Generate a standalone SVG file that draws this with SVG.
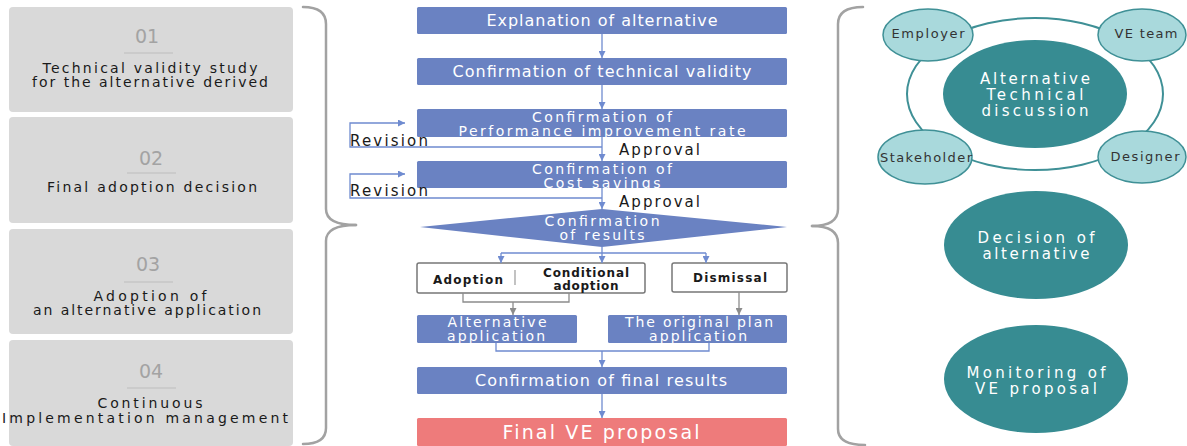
<svg xmlns="http://www.w3.org/2000/svg" width="1187" height="446" viewBox="0 0 1187 446">
  <defs>
    <style>
      .panel { fill: #d9d9d9; }
      .num { font-family: "DejaVu Sans", "Liberation Sans", sans-serif; font-size: 19px; fill: #a3a3a3; text-anchor: middle; }
      .rule { stroke: #bdbdbd; stroke-width: 1; }
      .ptxt { font-family: "DejaVu Sans", "Liberation Sans", sans-serif; font-size: 14px; fill: #1a1a1a; text-anchor: middle; }
      .brace { fill: none; stroke: #a2a2a2; stroke-width: 2.5; stroke-linecap: round; }
      .step { fill: #6a82c2; }
      .stxt { font-family: "DejaVu Sans", "Liberation Sans", sans-serif; font-size: 16px; fill: #ffffff; text-anchor: middle; }
      .stxt2 { font-family: "DejaVu Sans", "Liberation Sans", sans-serif; font-size: 14px; fill: #ffffff; text-anchor: middle; }
      .opt { fill: #ffffff; stroke: #777777; stroke-width: 1.5; }
      .otxt { font-family: "DejaVu Sans", "Liberation Sans", sans-serif; font-size: 12px; font-weight: bold; fill: #1a1a1a; text-anchor: middle; }
      .lbl { font-family: "DejaVu Sans", "Liberation Sans", sans-serif; font-size: 15px; fill: #1a1a1a; }
      .flow { fill: none; stroke: #6f8bd0; stroke-width: 1.3; }
      .flowg { fill: none; stroke: #8c8c8c; stroke-width: 1.3; }
      .final { fill: #ee7b7b; }
      .ftxt { font-family: "DejaVu Sans", "Liberation Sans", sans-serif; font-size: 19px; fill: #ffffff; text-anchor: middle; }
      .big { fill: #378c92; }
      .btxt { font-family: "DejaVu Sans", "Liberation Sans", sans-serif; font-size: 15px; fill: #ffffff; text-anchor: middle; }
      .ring { fill: none; stroke: #3f9096; stroke-width: 2; }
      .small { fill: #a9d9dc; stroke: #3f9096; stroke-width: 1.5; }
      .sm { font-family: "DejaVu Sans", "Liberation Sans", sans-serif; font-size: 13px; fill: #333333; text-anchor: middle; }
    </style>
    <marker id="ab" viewBox="0 0 8 8" refX="8" refY="4" markerWidth="7" markerHeight="7" markerUnits="userSpaceOnUse" orient="auto">
      <path d="M0,0 L8,4 L0,8 z" fill="#6f8bd0"/>
    </marker>
    <marker id="ag" viewBox="0 0 8 8" refX="8" refY="4" markerWidth="7" markerHeight="7" markerUnits="userSpaceOnUse" orient="auto">
      <path d="M0,0 L8,4 L0,8 z" fill="#8c8c8c"/>
    </marker>
  </defs>

  <!-- Stage panels -->
  <g id="stage-01">
    <rect class="panel" x="9" y="7" width="284" height="105" rx="4"/>
    <text class="num" x="147" y="43">01</text>
    <line class="rule" x1="124" y1="53" x2="173" y2="53"/>
    <text class="ptxt" x="150" y="73" textLength="215" lengthAdjust="spacing">Technical validity study</text>
    <text class="ptxt" x="150" y="87" textLength="236" lengthAdjust="spacing">for the alternative derived</text>
  </g>
  <g id="stage-02">
    <rect class="panel" x="9" y="117" width="284" height="106" rx="4"/>
    <text class="num" x="151" y="165">02</text>
    <line class="rule" x1="127" y1="173" x2="176" y2="173"/>
    <text class="ptxt" x="152" y="192" textLength="210" lengthAdjust="spacing">Final adoption decision</text>
  </g>
  <g id="stage-03">
    <rect class="panel" x="9" y="229" width="284" height="105" rx="4"/>
    <text class="num" x="148" y="271">03</text>
    <line class="rule" x1="124" y1="282" x2="173" y2="282"/>
    <text class="ptxt" x="150" y="301" textLength="113" lengthAdjust="spacing">Adoption of</text>
    <text class="ptxt" x="147" y="315" textLength="228" lengthAdjust="spacing">an alternative application</text>
  </g>
  <g id="stage-04">
    <rect class="panel" x="9" y="340" width="284" height="106" rx="4"/>
    <text class="num" x="151" y="378">04</text>
    <line class="rule" x1="127" y1="388" x2="176" y2="388"/>
    <text class="ptxt" x="150" y="408" textLength="105" lengthAdjust="spacing">Continuous</text>
    <text class="ptxt" x="145" y="423" textLength="286" lengthAdjust="spacing">Implementation management</text>
  </g>

  <!-- Braces grouping the stages -->
  <g id="braces">
    <path class="brace" d="M303 7 Q326 7 326 24 L326 209 Q326 225 356 225"/>
    <path class="brace" d="M356 225 Q326 225 326 241 L326 428 Q326 444 303 444"/>
    <path class="brace" d="M863 7 Q838 7 838 24 L838 209 Q838 226 812 226"/>
    <path class="brace" d="M812 226 Q838 226 838 243 L838 429 Q838 445 865 445"/>
  </g>

  <!-- Process steps -->
  <g id="explanation">
    <rect class="step" x="417" y="7" width="370" height="27" rx="1.5"/>
    <text class="stxt" x="602" y="26" textLength="231" lengthAdjust="spacing">Explanation of alternative</text>
  </g>
  <g id="technical-validity">
    <rect class="step" x="417" y="58" width="370" height="27" rx="1.5"/>
    <text class="stxt" x="602" y="77" textLength="299" lengthAdjust="spacing">Confirmation of technical validity</text>
  </g>
  <g id="performance">
    <rect class="step" x="417" y="109" width="370" height="28" rx="1.5"/>
    <text class="stxt2" x="602" y="122" textLength="140" lengthAdjust="spacing">Confirmation of</text>
    <text class="stxt2" x="602" y="136" textLength="287" lengthAdjust="spacing">Performance improvement rate</text>
  </g>
  <g id="cost-savings">
    <rect class="step" x="417" y="161" width="370" height="27" rx="1.5"/>
    <text class="stxt2" x="602" y="173.5" textLength="140" lengthAdjust="spacing">Confirmation of</text>
    <text class="stxt2" x="602" y="187.5" textLength="117" lengthAdjust="spacing">Cost savings</text>
  </g>
  <g id="results">
    <polygon class="step" points="602,209 787,227 602,247 420,227"/>
    <text class="stxt2" x="602" y="226" textLength="115" lengthAdjust="spacing">Confirmation</text>
    <text class="stxt2" x="602" y="240" textLength="85" lengthAdjust="spacing">of results</text>
  </g>
  <g id="adoption">
    <rect class="opt" x="417" y="263" width="228" height="30" rx="2"/>
    <line x1="515" y1="270" x2="515" y2="285" stroke="#9a9a9a" stroke-width="1.2"/>
    <text class="otxt" x="468" y="284" textLength="70" lengthAdjust="spacing">Adoption</text>
    <text class="otxt" x="586" y="277" textLength="86" lengthAdjust="spacing">Conditional</text>
    <text class="otxt" x="586" y="289.5" textLength="65" lengthAdjust="spacing">adoption</text>
  </g>
  <g id="dismissal">
    <rect class="opt" x="672" y="263" width="115" height="29" rx="2"/>
    <text class="otxt" x="730" y="282" textLength="74" lengthAdjust="spacing">Dismissal</text>
  </g>
  <g id="alt-application">
    <rect class="step" x="417" y="315" width="160" height="28" rx="1.5"/>
    <text class="stxt2" x="497" y="327" textLength="99" lengthAdjust="spacing">Alternative</text>
    <text class="stxt2" x="496" y="341" textLength="98" lengthAdjust="spacing">application</text>
  </g>
  <g id="original-plan">
    <rect class="step" x="608" y="315" width="179" height="28" rx="1.5"/>
    <text class="stxt2" x="699" y="327" textLength="148" lengthAdjust="spacing">The original plan</text>
    <text class="stxt2" x="698" y="341" textLength="98" lengthAdjust="spacing">application</text>
  </g>
  <g id="final-results">
    <rect class="step" x="417" y="367" width="370" height="27" rx="1.5"/>
    <text class="stxt" x="601" y="386" textLength="252" lengthAdjust="spacing">Confirmation of final results</text>
  </g>
  <g id="final-proposal">
    <rect class="final" x="417" y="418" width="370" height="28" rx="1.5"/>
    <text class="ftxt" x="601" y="439" textLength="197" lengthAdjust="spacing">Final VE proposal</text>
  </g>

  <!-- Connectors -->
  <g id="connectors">
    <line class="flow" x1="602" y1="34" x2="602" y2="58" marker-end="url(#ab)"/>
    <line class="flow" x1="602" y1="85" x2="602" y2="109" marker-end="url(#ab)"/>
    <line class="flow" x1="602" y1="137" x2="602" y2="161" marker-end="url(#ab)"/>
    <line class="flow" x1="602" y1="188" x2="602" y2="209" marker-end="url(#ab)"/>
    <polyline class="flow" points="602,147 350,147 350,123 405,123" marker-end="url(#ab)"/>
    <polyline class="flow" points="602,198 350,198 350,174 405,174" marker-end="url(#ab)"/>
    <text class="lbl" x="350" y="146" textLength="78" lengthAdjust="spacing">Revision</text>
    <text class="lbl" x="350" y="196" textLength="78" lengthAdjust="spacing">Revision</text>
    <text class="lbl" x="619" y="155" textLength="81" lengthAdjust="spacing">Approval</text>
    <text class="lbl" x="619" y="207" textLength="81" lengthAdjust="spacing">Approval</text>
    <line class="flow" x1="602" y1="247" x2="602" y2="253"/>
    <line class="flow" x1="501" y1="253" x2="706" y2="253"/>
    <line class="flow" x1="501" y1="253" x2="501" y2="263" marker-end="url(#ab)"/>
    <line class="flow" x1="602" y1="253" x2="602" y2="263" marker-end="url(#ab)"/>
    <line class="flow" x1="706" y1="253" x2="706" y2="263" marker-end="url(#ab)"/>
    <polyline class="flowg" points="463,293 463,302 569,302 569,293"/>
    <line class="flowg" x1="513" y1="302" x2="513" y2="315" marker-end="url(#ag)"/>
    <line class="flowg" x1="739" y1="292" x2="739" y2="315" marker-end="url(#ag)"/>
    <polyline class="flow" points="496,343 496,351 709,351 709,343"/>
    <line class="flow" x1="602" y1="351" x2="602" y2="367" marker-end="url(#ab)"/>
    <line class="flow" x1="602" y1="394" x2="602" y2="418" marker-end="url(#ab)"/>
  </g>

  <!-- Discussion cluster -->
  <g id="discussion-ring">
    <ellipse class="ring" cx="1035" cy="94" rx="128" ry="76"/>
  </g>
  <g id="technical-discussion">
    <ellipse class="big" cx="1035" cy="94" rx="92" ry="54"/>
    <text class="btxt" x="1035" y="84" textLength="110" lengthAdjust="spacing">Alternative</text>
    <text class="btxt" x="1035" y="100" textLength="97" lengthAdjust="spacing">Technical</text>
    <text class="btxt" x="1035" y="116" textLength="107" lengthAdjust="spacing">discussion</text>
  </g>
  <g id="employer">
    <ellipse class="small" cx="928" cy="35" rx="45" ry="26"/>
    <text class="sm" x="928" y="38" textLength="73" lengthAdjust="spacing">Employer</text>
  </g>
  <g id="ve-team">
    <ellipse class="small" cx="1142" cy="35" rx="44" ry="26"/>
    <text class="sm" x="1146" y="38" textLength="63" lengthAdjust="spacing">VE team</text>
  </g>
  <g id="stakeholder">
    <ellipse class="small" cx="925" cy="157" rx="47" ry="27"/>
    <text class="sm" x="926" y="162" textLength="92" lengthAdjust="spacing">Stakeholder</text>
  </g>
  <g id="designer">
    <ellipse class="small" cx="1142" cy="157" rx="44" ry="26"/>
    <text class="sm" x="1145" y="161" textLength="69" lengthAdjust="spacing">Designer</text>
  </g>
  <g id="decision">
    <ellipse class="big" cx="1036" cy="245" rx="92" ry="54"/>
    <text class="btxt" x="1036" y="243" textLength="117" lengthAdjust="spacing">Decision of</text>
    <text class="btxt" x="1036" y="259" textLength="107" lengthAdjust="spacing">alternative</text>
  </g>
  <g id="monitoring">
    <ellipse class="big" cx="1036" cy="379" rx="92" ry="54"/>
    <text class="btxt" x="1036" y="378" textLength="139" lengthAdjust="spacing">Monitoring of</text>
    <text class="btxt" x="1036" y="394" textLength="122" lengthAdjust="spacing">VE proposal</text>
  </g>
</svg>
